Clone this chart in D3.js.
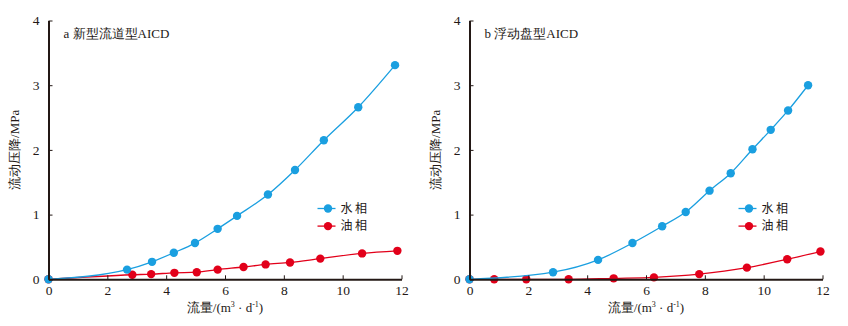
<!DOCTYPE html>
<html>
<head>
<meta charset="utf-8">
<script src="https://cdn.jsdelivr.net/npm/d3@7/dist/d3.min.js"></script>
<style>
  html, body { margin: 0; padding: 0; background: #fff; }
  svg { display: block; }
  .tick text { font-family: "Liberation Serif", "DejaVu Serif", serif; font-size: 13.5px; fill: #231815; }
</style>
</head>
<body>
<svg id="chart" width="848" height="326"></svg>
<script>
// Panel a: new flow-channel AICD
const aWaterQ = [0, 2.67, 3.52, 4.26, 4.98, 5.75, 6.41, 7.46, 8.38, 9.36, 10.53, 11.78];
const aWaterP = [0, 0.15, 0.27, 0.41, 0.56, 0.78, 0.98, 1.31, 1.69, 2.15, 2.66, 3.31];
const aOilQ   = [0, 2.85, 3.49, 4.28, 5.04, 5.75, 6.63, 7.38, 8.21, 9.24, 10.66, 11.86];
const aOilP   = [0, 0.07, 0.08, 0.10, 0.11, 0.15, 0.19, 0.23, 0.26, 0.32, 0.40, 0.44];

// Panel b: floating-disc AICD
const bWaterQ = [0, 2.84, 4.37, 5.54, 6.55, 7.35, 8.16, 8.88, 9.62, 10.24, 10.83, 11.51];
const bWaterP = [0, 0.11, 0.30, 0.56, 0.82, 1.04, 1.37, 1.64, 2.01, 2.31, 2.61, 3.00];
const bOilQ   = [0, 0.84, 1.93, 3.37, 4.90, 6.27, 7.81, 9.43, 10.80, 11.93];
const bOilP   = [0, 0, 0, 0, 0.015, 0.03, 0.08, 0.18, 0.31, 0.43];

const xTicks = [0, 2, 4, 6, 8, 10, 12];
const yTicks = [0, 1, 2, 3, 4];
const seriesNames = ["水相", "油相"];
const panelTitles = ["a 新型流道型AICD", "b 浮动盘型AICD"];
const xTitle = "流量/(m";
const yTitle = "流动压降/MPa";

const waterColor = "#1a9fe0";
const oilColor = "#e2001a";
const ink = "#231815";

const svg = d3.select("#chart");
const cjk = "'Noto Sans CJK SC', 'Noto Sans', sans-serif";
const serif = "'Liberation Serif', 'DejaVu Serif', serif";

const panels = [
  { left: 48.5, right: 401.5, title: panelTitles[0],
    water: aWaterQ.map((q, i) => [q, aWaterP[i]]),
    oil: aOilQ.map((q, i) => [q, aOilP[i]]) },
  { left: 469.5, right: 822.5, title: panelTitles[1],
    water: bWaterQ.map((q, i) => [q, bWaterP[i]]),
    oil: bOilQ.map((q, i) => [q, bOilP[i]]) }
];

const plotTop = 20.5, plotBottom = 279.3;

panels.forEach(p => {
  const x = d3.scaleLinear().domain([0, 12]).range([p.left, p.right]);
  const y = d3.scaleLinear().domain([0, 4]).range([plotBottom, plotTop]);
  const g = svg.append("g");

  const line = d3.line()
    .x(d => x(d[0])).y(d => y(d[1]))
    .curve(d3.curveMonotoneX);

  [[p.oil, oilColor], [p.water, waterColor]].forEach(([data, color]) => {
    g.append("path").datum(data)
      .attr("d", line).attr("fill", "none")
      .attr("stroke", color).attr("stroke-width", 1.3);
    g.selectAll(null).data(data).enter().append("circle")
      .attr("cx", d => x(d[0])).attr("cy", d => y(d[1]))
      .attr("r", 4.2).attr("fill", color);
  });

  // axes with inward ticks
  const xAxis = g.append("g").attr("transform", `translate(0,${plotBottom})`)
    .call(d3.axisBottom(x).tickValues(xTicks).tickFormat(d3.format("d"))
      .tickSizeInner(-4).tickSizeOuter(0).tickPadding(9));
  const yAxis = g.append("g").attr("transform", `translate(${p.left},0)`)
    .call(d3.axisLeft(y).tickValues(yTicks).tickFormat(d3.format("d"))
      .tickSizeInner(-4).tickSizeOuter(0).tickPadding(9));
  [xAxis, yAxis].forEach(a => {
    a.select(".domain").attr("stroke", ink).attr("stroke-width", 2);
    a.selectAll(".tick line").attr("stroke", ink).attr("stroke-width", 1);
  });
  xAxis.selectAll(".tick text").attr("dy", "0.5em");

  // panel title
  g.append("text").attr("x", p.left + 15).attr("y", 38)
    .attr("font-family", serif).attr("font-size", 13).attr("fill", ink)
    .text(p.title);

  // x axis title with superscripts
  const xt = g.append("text").attr("x", (p.left + p.right) / 2).attr("y", 312)
    .attr("text-anchor", "middle").attr("font-family", serif)
    .attr("font-size", 13).attr("fill", ink);
  xt.append("tspan").text(xTitle);
  xt.append("tspan").attr("font-size", 8).attr("dy", -5).text("3");
  xt.append("tspan").attr("dy", 5).text(" · d");
  xt.append("tspan").attr("font-size", 8).attr("dy", -5).text("-1");
  xt.append("tspan").attr("dy", 5).text(")");

  // y axis title
  g.append("text")
    .attr("transform", `translate(${p.left - 30},${(plotTop + plotBottom) / 2}) rotate(-90)`)
    .attr("text-anchor", "middle").attr("font-family", serif)
    .attr("font-size", 13).attr("fill", ink).text(yTitle);

  // legend
  const lx = p.right - 84, ly = 208.5;
  [[waterColor, seriesNames[0]], [oilColor, seriesNames[1]]].forEach(([color, name], i) => {
    const yy = ly + i * 17.6;
    g.append("line").attr("x1", lx).attr("x2", lx + 18).attr("y1", yy).attr("y2", yy)
      .attr("stroke", color).attr("stroke-width", 1.3);
    g.append("circle").attr("cx", lx + 10.5).attr("cy", yy).attr("r", 4.2).attr("fill", color);
    g.append("text").attr("x", lx + 23).attr("y", yy + 4.3)
      .attr("font-family", cjk).attr("font-size", 12).attr("fill", ink)
      .attr("letter-spacing", 2.5).text(name);
  });
});
</script>
</body>
</html>
